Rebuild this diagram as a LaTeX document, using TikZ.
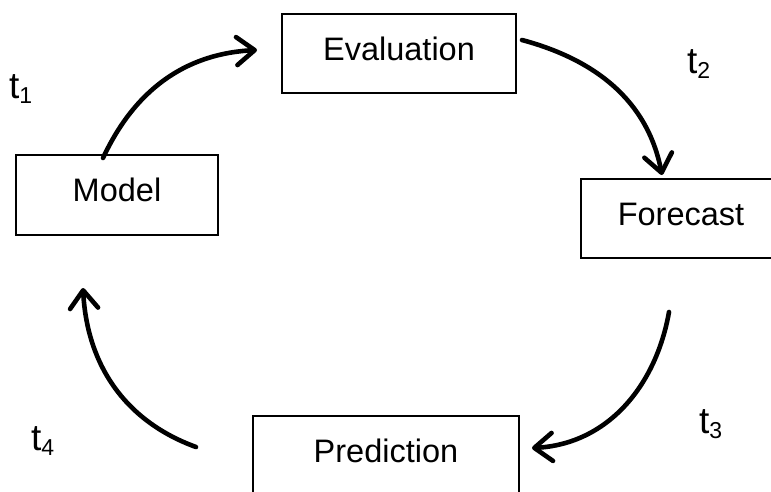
\documentclass[tikz,border=0pt]{standalone}
\usepackage{fontspec}
\setmainfont{Liberation Sans}
\usetikzlibrary{arrows.meta}

\begin{document}
\begin{tikzpicture}[x=1pt,y=1pt,
  stage/.style={draw=black, line width=2.6pt, inner sep=0pt, outer sep=0pt,
    text height=23.3pt, text depth=9.5pt,
    font=\fontsize{32.5}{36}\selectfont},
  flow/.style={line width=4.6pt, line cap=round,
    -{Straight Barb[length=18pt,width=28pt,round]}},
  tlabel/.style={anchor=base west, inner sep=0pt,
    font=\fontsize{37}{40}\selectfont}]
  \newcommand{\tsub}[1]{\raisebox{-5pt}{\fontsize{23}{25}\selectfont #1}}

  % canvas
  \useasboundingbox (0,0) rectangle (771,-491);
  \clip (0,0) rectangle (771,-491);
  \fill[white] (0,0) rectangle (771,-491);

  % the four stages of the cycle
  \node[stage, minimum width=202pt, minimum height=80pt] (model)    at (117,-195)   {Model};
  \node[stage, minimum width=234pt, minimum height=79pt] (eval)     at (399,-53.5)  {Evaluation};
  \node[stage, minimum width=200pt, minimum height=79pt] (forecast) at (681,-218.5) {Forecast};
  \node[stage, minimum width=266pt, minimum height=79pt] (pred)     at (386,-455.5) {Prediction};

  % step labels
  \node[tlabel] (t1) at (9,-98)   {t\tsub{1}};
  \node[tlabel] (t2) at (687,-73) {t\tsub{2}};
  \node[tlabel] (t3) at (699,-433) {t\tsub{3}};
  \node[tlabel] (t4) at (31,-450) {t\tsub{4}};

  % arrow end points
  \coordinate (a1s) at (103,-158);
  \coordinate (a1e) at (257,-50);
  \coordinate (a2s) at (522,-40);
  \coordinate (a2e) at (662,-175);
  \coordinate (a3s) at (669,-312);
  \coordinate (a3e) at (532,-448);
  \coordinate (a4s) at (196,-447);
  \coordinate (a4e) at (83,-288);

  % curved transitions
  \draw[flow] (a1s) to[out=65,  in=183] (a1e);
  \draw[flow] (a2s) to[out=-15, in=101] (a2e);
  \draw[flow] (a3s) to[out=-100, in=3]  (a3e);
  \draw[flow] (a4s) to[out=160, in=-87] (a4e);
\end{tikzpicture}
\end{document}
